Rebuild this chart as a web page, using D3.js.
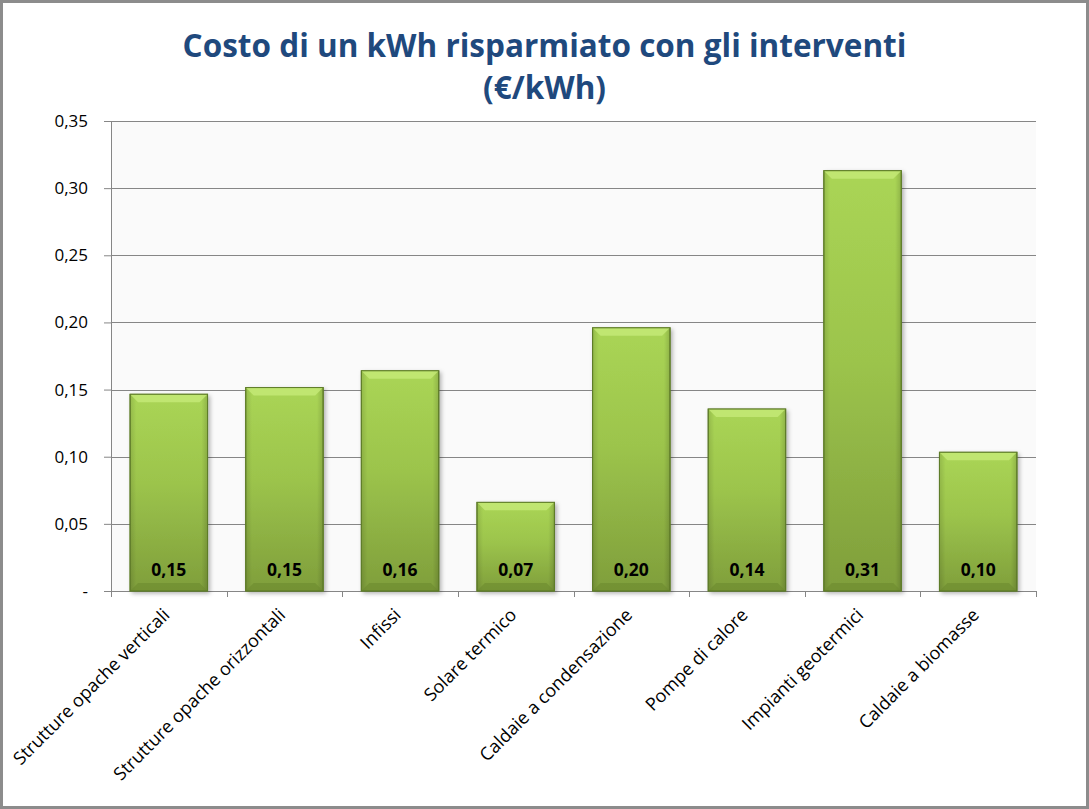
<!DOCTYPE html>
<html>
<head>
<meta charset="utf-8">
<script src="https://cdn.jsdelivr.net/npm/d3@7"></script>
<style>
  body { margin: 0; background: #fff; }
  svg, svg text { font-family: "Open Sans", "DejaVu Sans", sans-serif; }
  svg { display: block; }
</style>
</head>
<body>
<svg id="chart"></svg>
<script>
// data
var categories = ["Strutture opache verticali", "Strutture opache orizzontali", "Infissi",
  "Solare termico", "Caldaie a condensazione", "Pompe di calore",
  "Impianti geotermici", "Caldaie a biomasse"];
var values = [0.1465, 0.1515, 0.164, 0.066, 0.196, 0.1355, 0.313, 0.1033];
var yTicks = [0, 0.05, 0.10, 0.15, 0.20, 0.25, 0.30, 0.35];
var titleLines = ["Costo di un kWh risparmiato con gli interventi", "(€/kWh)"];

var W = 1089, H = 809;
var margin = {top: 121, right: 53, bottom: 218, left: 111};
var width = W - margin.left - margin.right,
    height = H - margin.top - margin.bottom;

var svg = d3.select("#chart").attr("width", W).attr("height", H);

// outer frame
svg.append("rect")
  .attr("x", 1.5).attr("y", 1.5)
  .attr("width", W - 3).attr("height", H - 3)
  .attr("fill", "#fff").attr("stroke", "#8c8c8c").attr("stroke-width", 3);

var x = d3.scaleBand().domain(categories).range([0, width]).paddingInner(0.33).paddingOuter(0.165);
var y = d3.scaleLinear().domain([0, 0.35]).range([height, 0]);

var fmt = function(v) { return v === 0 ? "-" : d3.format(".2f")(v).replace(".", ","); };

// gradient + bevel defs
var defs = svg.append("defs");
var grad = defs.append("linearGradient").attr("id", "barGrad")
  .attr("x1", 0).attr("y1", 0).attr("x2", 0).attr("y2", 1);
grad.append("stop").attr("offset", "0%").attr("stop-color", "#aad555");
grad.append("stop").attr("offset", "45%").attr("stop-color", "#9cc44c");
grad.append("stop").attr("offset", "100%").attr("stop-color", "#7f9e3b");

var sideGrad = defs.append("linearGradient").attr("id", "sideGrad")
  .attr("x1", 0).attr("y1", 0).attr("x2", 1).attr("y2", 0);
sideGrad.append("stop").attr("offset", "0%").attr("stop-color", "#000").attr("stop-opacity", 0.12);
sideGrad.append("stop").attr("offset", "8%").attr("stop-color", "#000").attr("stop-opacity", 0);
sideGrad.append("stop").attr("offset", "92%").attr("stop-color", "#000").attr("stop-opacity", 0);
sideGrad.append("stop").attr("offset", "100%").attr("stop-color", "#000").attr("stop-opacity", 0.15);

var shadow = defs.append("filter").attr("id", "shadow")
  .attr("x", "-20%").attr("y", "-20%").attr("width", "140%").attr("height", "140%");
shadow.append("feDropShadow").attr("dx", 2).attr("dy", 2).attr("stdDeviation", 2)
  .attr("flood-color", "#000").attr("flood-opacity", 0.3);

var g = svg.append("g").attr("transform", "translate(" + margin.left + "," + margin.top + ")");

// plot area
g.append("rect").attr("width", width).attr("height", height).attr("fill", "#fafafa");

// gridlines
g.selectAll(".grid").data(yTicks.slice(1))
  .enter().append("line")
  .attr("x1", 0).attr("x2", width)
  .attr("y1", function(d) { return Math.round(y(d)) + 0.5; })
  .attr("y2", function(d) { return Math.round(y(d)) + 0.5; })
  .attr("stroke", "#868686").attr("stroke-width", 1);

// y axis
var yAxis = g.append("g").attr("class", "y axis")
  .call(d3.axisLeft(y).tickValues(yTicks).tickSize(7).tickPadding(16).tickFormat(fmt))
  .attr("font-family", null).attr("font-size", 17);
yAxis.select(".domain").attr("stroke", "#868686");
yAxis.selectAll(".tick line").attr("stroke", "#868686");
yAxis.selectAll(".tick text").attr("fill", "#000");

// x axis
var xAxis = g.append("g").attr("class", "x axis")
  .attr("transform", "translate(0," + height + ")")
  .call(d3.axisBottom(x).tickSize(0).tickFormat(""))
  .attr("font-family", null).attr("font-size", 18);
xAxis.select(".domain").attr("stroke", "#868686");

var bounds = x.domain().map(function(d) { return x(d) - x.step() * x.paddingInner() / 2; });
bounds.push(width);
g.selectAll(".xtick").data(bounds).enter().append("line")
  .attr("x1", function(d) { return Math.round(d) + 0.5; })
  .attr("x2", function(d) { return Math.round(d) + 0.5; })
  .attr("y1", height).attr("y2", height + 6)
  .attr("stroke", "#868686");

xAxis.selectAll(".catlab").data(categories).enter().append("text")
  .attr("class", "catlab")
  .attr("transform", function(d) {
    return "translate(" + (x(d) + x.bandwidth() / 2 + 2) + "," + 25 + ") rotate(-45)";
  })
  .attr("text-anchor", "end")
  .attr("fill", "#000")
  .text(function(d) { return d; });

// bars
var bars = g.selectAll(".bar").data(values).enter().append("g").attr("class", "bar")
  .attr("transform", function(d, i) { return "translate(" + x(categories[i]) + "," + y(d) + ")"; });

var bw = x.bandwidth(), bev = 8;

bars.append("rect")
  .attr("width", bw)
  .attr("height", function(d) { return height - y(d); })
  .attr("fill", "url(#barGrad)")
  .attr("stroke", "#5f7d29").attr("stroke-width", 1)
  .attr("filter", "url(#shadow)");

bars.append("rect")
  .attr("width", bw)
  .attr("height", function(d) { return height - y(d); })
  .attr("fill", "url(#sideGrad)");

// top bevel
bars.append("path")
  .attr("d", "M0,0 L" + bw + ",0 L" + (bw - bev) + "," + bev + " L" + bev + "," + bev + " Z")
  .attr("fill", "#c5ea78").attr("opacity", 0.8);

// bottom bevel
bars.append("path")
  .attr("d", function(d) {
    var h = height - y(d);
    return "M0," + h + " L" + bw + "," + h + " L" + (bw - bev) + "," + (h - bev) + " L" + bev + "," + (h - bev) + " Z";
  })
  .attr("fill", "#6c8a2e").attr("opacity", 0.6);

bars.append("rect")
  .attr("width", bw)
  .attr("height", function(d) { return height - y(d); })
  .attr("fill", "none")
  .attr("stroke", "#5f7d29").attr("stroke-width", 1);

// value labels at the bottom of each bar
g.selectAll(".vlab").data(values).enter().append("text")
  .attr("class", "vlab")
  .attr("x", function(d, i) { return x(categories[i]) + bw / 2; })
  .attr("y", height - 15)
  .attr("text-anchor", "middle")
  .attr("font-size", 17.5)
  .attr("font-weight", "bold")
  .attr("fill", "#000")
  .text(function(d) { return fmt(d); });

// title
svg.append("g").attr("class", "title")
  .selectAll("text").data(titleLines).enter().append("text")
  .attr("x", W / 2)
  .attr("y", function(d, i) { return 57 + i * 42; })
  .attr("text-anchor", "middle")
  .attr("font-size", 31.5)
  .attr("font-weight", "bold")
  .attr("fill", "#1f497d")
  .text(function(d) { return d; });
</script>
</body>
</html>
